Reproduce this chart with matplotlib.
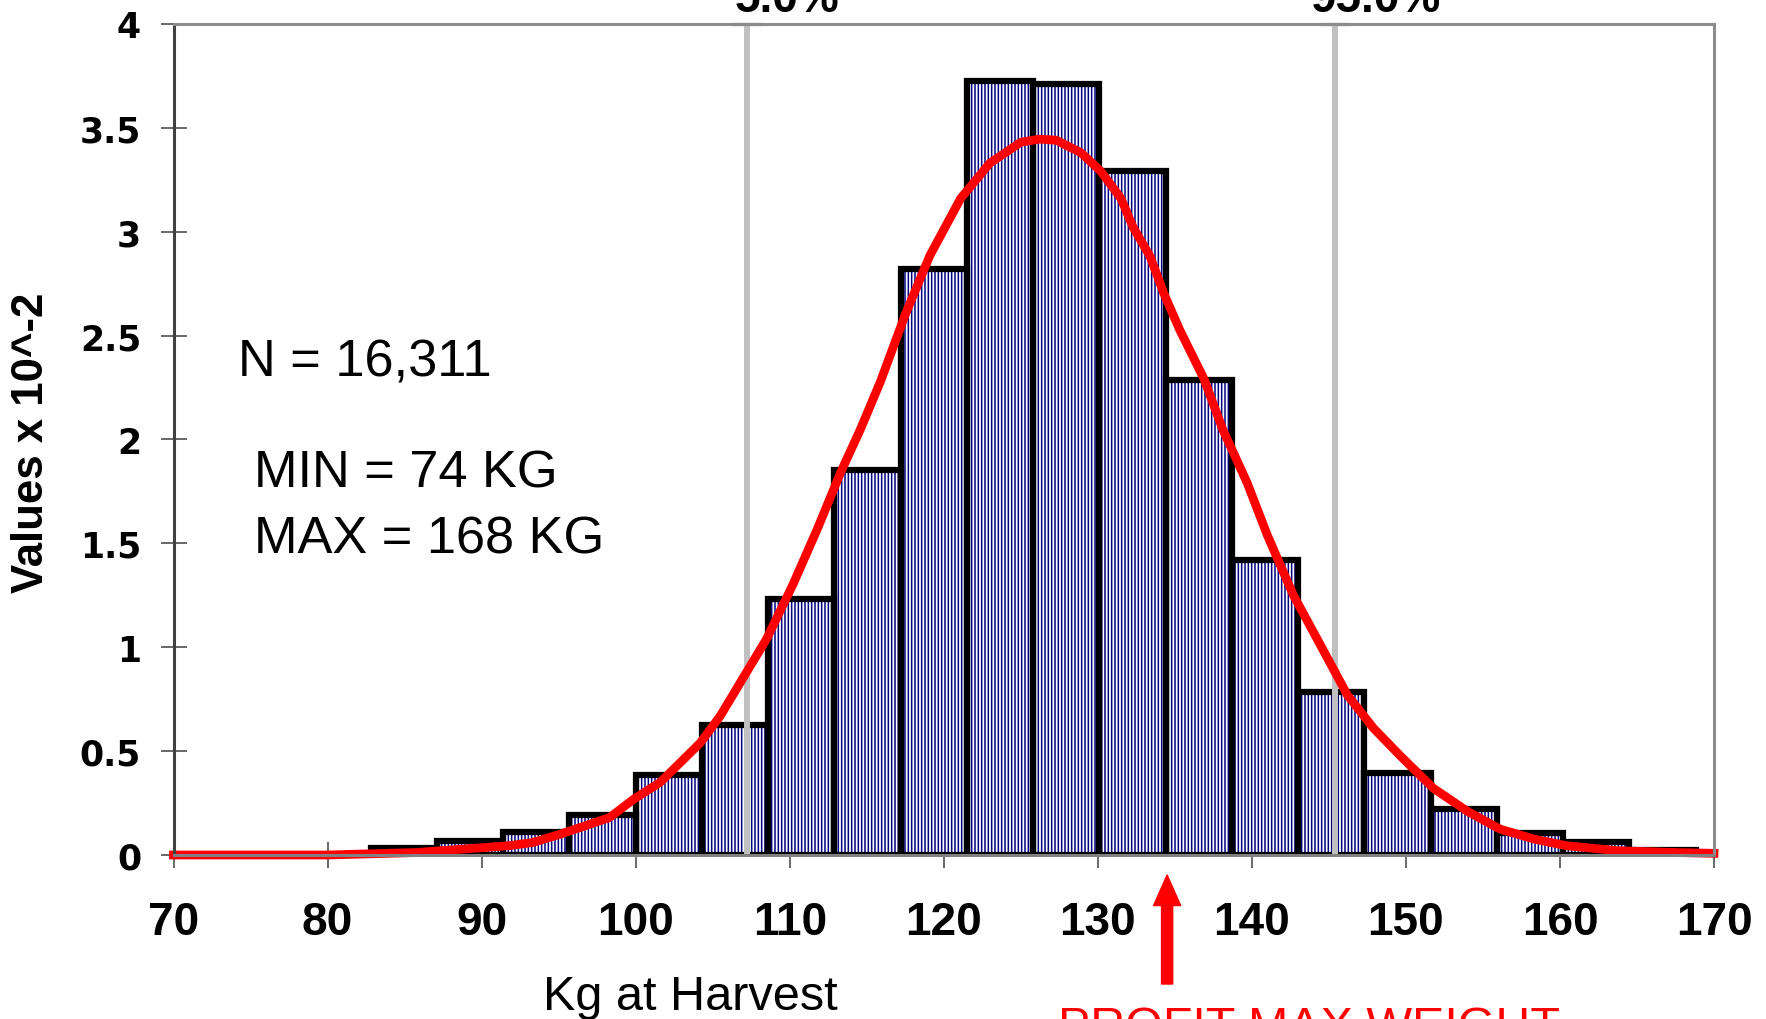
import numpy as np
import matplotlib
import matplotlib.pyplot as plt
matplotlib.use("Agg")

# histogram of harvest weights (values x 10^-2)
bin_start = 82.8
bin_width = 4.3
bin_heights = [0.035, 0.065, 0.109, 0.192, 0.384, 0.624, 1.231, 1.855, 2.819, 3.726,
               3.710, 3.293, 2.285, 1.421, 0.786, 0.396, 0.220, 0.107, 0.063, 0.024]

# fitted curve
curve_x = [70, 80, 85.8, 90.0, 91.8, 93.3, 95.1, 98.3, 99.9, 101.6, 104.2, 105.5, 107.2,
           108.5, 110.2, 111.8, 113.3, 114.6, 115.9, 117.5, 119.1, 121.1, 123.0, 125.0,
           126.2, 127.3, 128.9, 130.2, 131.5, 132.3, 133.4, 134.3, 135.3, 136.9, 138.1,
           139.7, 141.0, 142.7, 144.6, 146.2, 147.9, 149.6, 151.8, 154.0, 156.1, 158.3,
           160.4, 163.7, 166.9, 170]
curve_y = [0.0, 0.0, 0.012, 0.035, 0.045, 0.06, 0.10, 0.18, 0.27, 0.35, 0.54, 0.67, 0.88,
           1.04, 1.30, 1.57, 1.84, 2.05, 2.28, 2.60, 2.885, 3.16, 3.33, 3.43,
           3.445, 3.44, 3.38, 3.29, 3.16, 3.02, 2.88, 2.70, 2.53, 2.29, 2.05,
           1.79, 1.54, 1.25, 0.99, 0.77, 0.61, 0.48, 0.32, 0.21, 0.125, 0.077,
           0.045, 0.021, 0.013, 0.008]

pct_x = [107.2, 145.4]
pct_labels = ['5.0%', '95.0%']
profit_max_x = 134.5

x_ticks = [70, 80, 90, 100, 110, 120, 130, 140, 150, 160, 170]
y_ticks = [0, 0.5, 1, 1.5, 2, 2.5, 3, 3.5, 4]
y_tick_labels = ['0', '0.5', '1', '1.5', '2', '2.5', '3', '3.5', '4']

narrow = ['Liberation Sans Narrow', 'Liberation Sans']
plt.rcParams['hatch.linewidth'] = 1.1

fig = plt.figure(figsize=(17.66, 10.20), dpi=100)
ax = fig.add_axes([0.09825, 0.16078, 0.8723, 0.8149])

lefts = bin_start + bin_width * np.arange(len(bin_heights))
# striped fill, then thick black outlines
ax.bar(lefts, bin_heights, width=bin_width, align='edge', color='white',
       edgecolor='#000080', hatch='|||||', linewidth=0, zorder=2)
ax.bar(lefts, bin_heights, width=bin_width, align='edge', fill=False,
       edgecolor='black', linewidth=4.5, joinstyle='miter', zorder=3)

for x, lab in zip(pct_x, pct_labels):
    ax.axvline(x, color='#c0c0c0', lw=4.3, zorder=4)
    ax.plot([x], [4], marker='_', ms=21, mew=2.5, color='#c0c0c0', clip_on=False, zorder=4)
    ax.annotate(lab, xy=(x, 1), xycoords=('data', 'axes fraction'), xytext=(28.8, 9.4),
                textcoords='offset points', ha='center', va='baseline', fontsize=33,
                fontweight='bold', family=narrow, annotation_clip=False)

ax.plot(curve_x, curve_y, color='red', lw=6.3, solid_joinstyle='round', clip_on=False, zorder=5)

ax.set_xlim(70, 170)
ax.set_ylim(0, 4)
ax.set_xticks(x_ticks)
ax.set_yticks(y_ticks)
ax.set_yticklabels(y_tick_labels)
ax.tick_params(axis='both', direction='inout', length=18.7, width=1.1, color='#404040')
ax.tick_params(axis='y', pad=14)
ax.tick_params(axis='x', pad=23)
for t in ax.get_xticklabels():
    t.set_family(narrow)
    t.set_fontweight('bold')
    t.set_fontsize(33)
for t in ax.get_yticklabels():
    t.set_family('DejaVu Sans')
    t.set_fontweight('bold')
    t.set_fontsize(25)

ax.spines['left'].set_color('#404040')
ax.spines['bottom'].set_color('#808080')
ax.spines['top'].set_color('#8c8c8c')
ax.spines['right'].set_color('#8c8c8c')
for s in ax.spines.values():
    s.set_linewidth(2.2)
    s.set_zorder(6)

ax.text(74.2, 2.307, 'N = 16,311', fontsize=37.7, family='Liberation Sans')
ax.text(75.2, 1.771, 'MIN = 74 KG', fontsize=37.7, family='Liberation Sans')
ax.text(75.2, 1.458, 'MAX = 168 KG', fontsize=37.7, family='Liberation Sans')

fig.text(32 / 1766, 1 - 443 / 1020, 'Values x 10^-2', rotation=90, ha='center', va='center',
         fontsize=31.5, fontweight='bold', family=narrow)
fig.text(690.5 / 1766, 1 - 1010 / 1020, 'Kg at Harvest', ha='center', va='baseline',
         fontsize=35, family='Liberation Sans')
fig.text(1058 / 1766, 1 - 1041 / 1020, 'PROFIT MAX WEIGHT', ha='left', va='baseline',
         fontsize=34.8, color='red', family='Liberation Sans')

ax.annotate('', xy=(profit_max_x, 144), xycoords=('data', 'figure pixels'),
            xytext=(profit_max_x, 35), textcoords=('data', 'figure pixels'),
            arrowprops=dict(arrowstyle='simple,head_length=2.2,head_width=1.95,tail_width=0.8',
                            mutation_scale=10, color='red', shrinkA=0, shrinkB=0),
            annotation_clip=False)

plt.savefig('out.png', dpi=100)
